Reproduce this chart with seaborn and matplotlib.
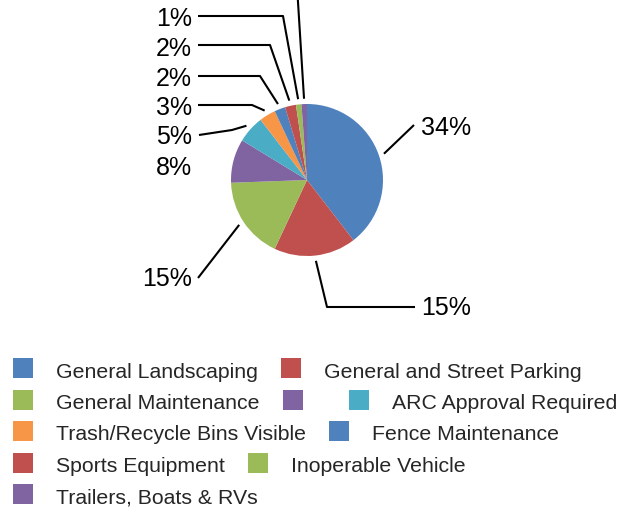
import numpy as np
import seaborn as sns
import matplotlib.pyplot as plt
from matplotlib.patches import Rectangle

# Data
categories = ['General Landscaping', 'General and Street Parking', 'General Maintenance', '',
              'ARC Approval Required', 'Trash/Recycle Bins Visible', 'Fence Maintenance',
              'Sports Equipment', 'Inoperable Vehicle', 'Trailers, Boats & RVs']
values = [34, 15, 15, 8, 5, 3, 2, 2, 1, 1]
pct_labels = ['34%', '15%', '15%', '8%', '5%', '3%', '2%', '2%', '1%', '1%']

colors = sns.color_palette(['#4F81BD', '#C0504D', '#9BBB59', '#8064A2', '#4BACC6',
                            '#F79646', '#4F81BD', '#C0504D', '#9BBB59', '#8064A2'])

# Label layout (pixel coordinates, y downward): text anchor, alignment, leader elbows
label_xy = [(421, 135), (421, 315), (192, 286), (192, 175), (192, 144),
            (192, 115), (192, 86), (192, 56), (192, 26), (192, -30)]
label_ha = ['left', 'left', 'right', 'right', 'right',
            'right', 'right', 'right', 'right', 'right']
leaders = [[(414, 125)],
           [(327, 307), (415, 307)],
           [(198, 278)],
           [],
           [(232, 130), (199, 135)],
           [(252, 105), (198, 105)],
           [(260, 76), (198, 76)],
           [(270, 45), (198, 45)],
           [(283, 16), (198, 16)],
           [(297, -14), (198, -14)]]

W, H = 631, 508
CX, CY, R = 307, 180, 76

sns.set_theme(style='white')
plt.rcParams['font.family'] = ['Liberation Sans', 'DejaVu Sans']

fig = plt.figure(figsize=(W / 100, H / 100), dpi=100)
ax = fig.add_axes([0, 0, 1, 1])

# y axis is inverted, so counterclock=True draws clockwise on screen
wedges, _ = ax.pie(values, colors=colors, startangle=-90, counterclock=True,
                   center=(CX, CY), radius=R, wedgeprops=dict(linewidth=0))
ax.set_xlim(0, W)
ax.set_ylim(H, 0)
ax.set_aspect('equal')
ax.axis('off')

# Percentage labels with leader lines
for w, lab, (tx, ty), ha, path in zip(wedges, pct_labels, label_xy, label_ha, leaders):
    mid = np.deg2rad((w.theta1 + w.theta2) / 2)
    sx = CX + R * 1.07 * np.cos(mid)
    sy = CY + R * 1.07 * np.sin(mid)
    if path:
        xs = [sx] + [p[0] for p in path]
        ys = [sy] + [p[1] for p in path]
        ax.plot(xs, ys, color='black', lw=1.5, solid_capstyle='butt', clip_on=False)
    if ty > 0:  # the top-most label sits above the visible area in the original
        ax.text(tx, ty, lab, ha=ha, va='baseline', fontsize=18, color='black')

# Legend in flowing rows
renderer = fig.canvas.get_renderer()
x, row = 13, 0
row_y0, row_h = 368, 31.5
max_x = 622
for cat, col in zip(categories, colors):
    t = ax.text(0, 0, cat, fontsize=15.3, va='center', ha='left')
    tw = t.get_window_extent(renderer).width if cat else 0
    if x + 43 + tw > max_x and x > 13:
        row += 1
        x = 13
    y = row_y0 + row * row_h
    ax.add_patch(Rectangle((x, y - 10), 20, 20, color=col, lw=0, clip_on=False))
    t.set_position((x + 43, y + 4))
    x += 43 + tw + 23

fig.savefig('out.png', dpi=100)
